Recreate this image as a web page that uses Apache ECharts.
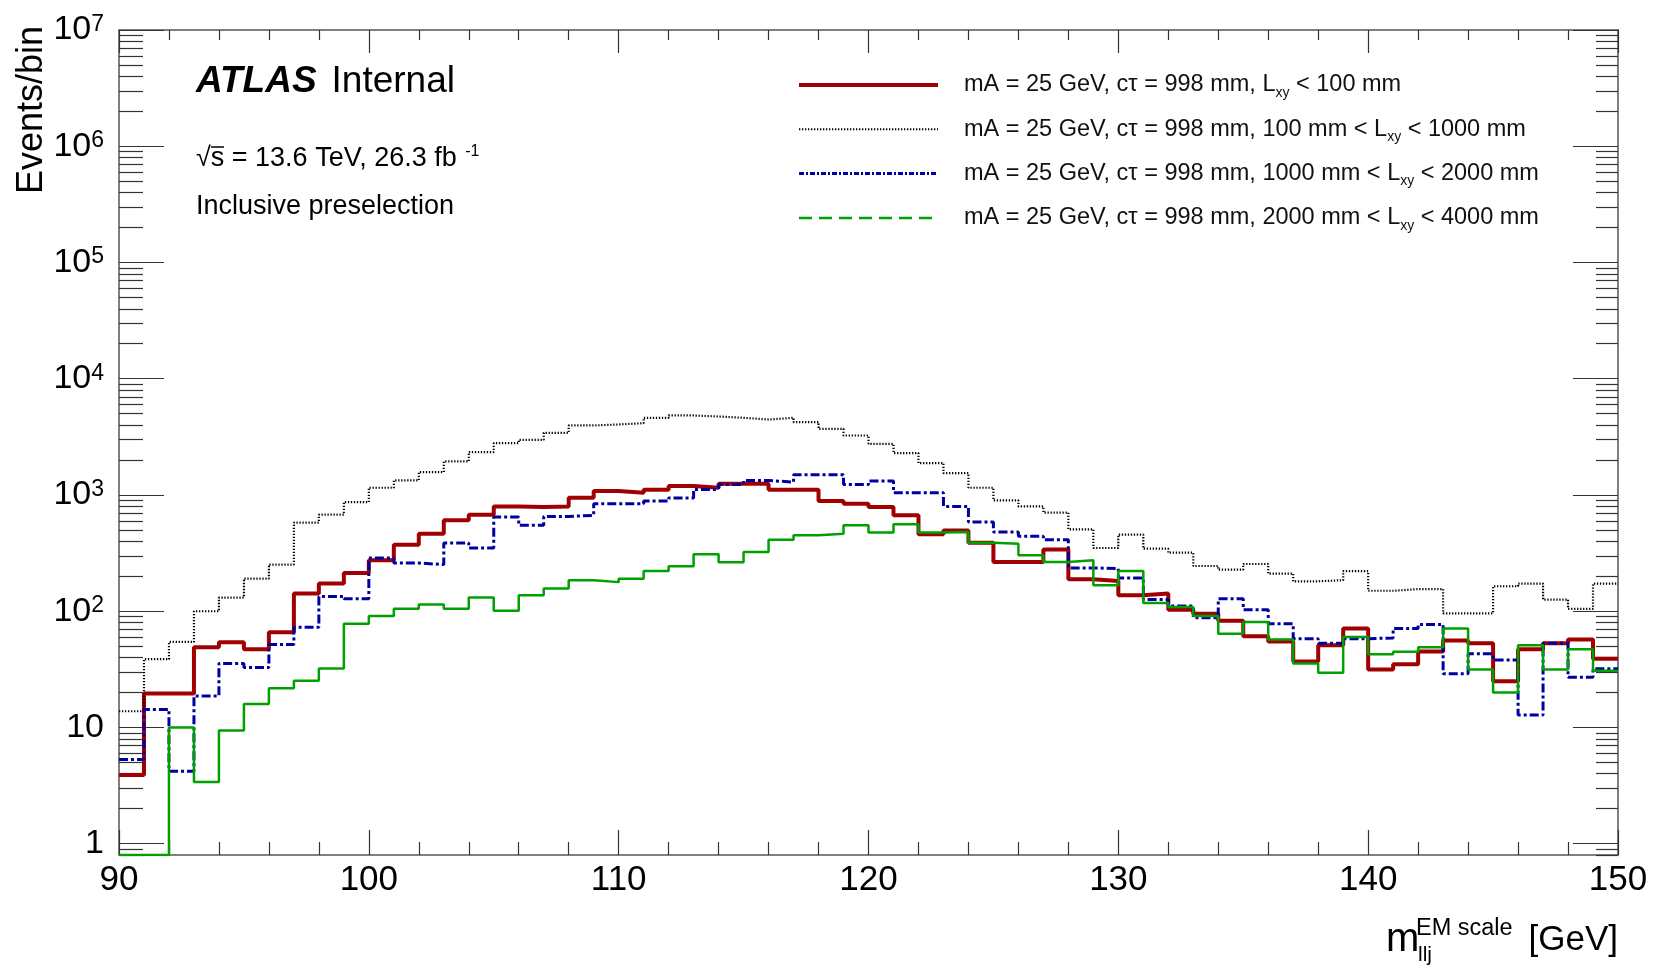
<!DOCTYPE html>
<html><head><meta charset="utf-8">
<script src="https://cdn.jsdelivr.net/npm/echarts@6/dist/echarts.min.js"></script>
<style>html,body{margin:0;padding:0;background:#fff}#c{width:1655px;height:969px}</style>
</head><body><div id="c"></div>
<script>
// ---- data ----
const binEdges = [90,91,92,93,94,95,96,97,98,99,100,101,102,103,104,105,106,107,108,109,110,111,112,113,114,115,116,117,118,119,120,121,122,123,124,125,126,127,128,129,130,131,132,133,134,135,136,137,138,139,140,141,142,143,144,145,146,147,148,149,150];
const lxyBelow100 = [3.9,19.6,19.6,49,54,47,66,142,173,213,274,374,465,605,677,798,787,798,947,1081,1045,1109,1193,1154,1250,1250,1109,1109,887,841,787,668,459,496,389,265,265,339,188,182,137,142,103,95,83,61,55,37,51,71,31.5,35,45,56,53,25,47,53,57,39];
const lxy100to1000 = [13.8,38.7,54.5,100,131,191,252,578,677,869,1154,1334,1574,1944,2340,2793,2985,3428,3963,4045,4150,4613,4831,4733,4613,4458,4613,4236,3707,3249,2756,2293,1880,1542,1154,899,798,705,506,350,456,345,319,245,228,255,211,181,185,221,150,155,155,96,96,164,173,126,105,173];
const lxy1000to2000 = [5.3,14.3,4.2,18.7,35.6,32.8,51.7,73,134,128,287,260,252,387,350,646,548,654,668,841,841,887,942,1117,1233,1334,1291,1494,1494,1233,1318,1045,1045,798,585,480,441,413,236,233,193,126,111,88,128,103,78,58,53,58,59,71,77,29,43,38,12.8,53,27,32];
const lxy2000to4000 = [0,0,10,3.4,9.4,15.9,21.7,25.2,32.2,78,91,105,114,105,131,101,137,157,185,178,190,222,244,309,264,323,413,450,465,548,475,559,475,480,389,381,303,265,274,167,222,118,109,91,64,81,57,35.5,29.5,60,42.7,44.8,49,71,31.6,20,51,31.6,47,30.7];
const seriesNames = ['Lxy < 100 mm','100 mm < Lxy < 1000 mm','1000 mm < Lxy < 2000 mm','2000 mm < Lxy < 4000 mm'];
const legendLabels = [
  'mA = 25 GeV, cτ = 998 mm, L{sub|xy} < 100 mm',
  'mA = 25 GeV, cτ = 998 mm, 100 mm < L{sub|xy} < 1000 mm',
  'mA = 25 GeV, cτ = 998 mm, 1000 mm < L{sub|xy} < 2000 mm',
  'mA = 25 GeV, cτ = 998 mm, 2000 mm < L{sub|xy} < 4000 mm'
];
const xTickLabels = [90,100,110,120,130,140,150];
const yDecades = [0,1,2,3,4,5,6,7];
const yMinValue = 0.8, yMaxValue = 1e7;

// ---- helpers ----
const FONT = "'Liberation Sans', Arial, Helvetica, sans-serif";
const yMin = Math.log10(yMinValue), yMax = Math.log10(yMaxValue);
function toLog(v){ return v > 0 ? Math.max(Math.log10(v), yMin) : yMin; }
function histData(vals){
  return binEdges.map((x,i)=>[x, toLog(vals[Math.min(i, vals.length-1)])]);
}
const minorVals = [];
[0.8,0.9].forEach(v=>minorVals.push(Math.log10(v)));
for (let n=0;n<7;n++) for (let k=2;k<=9;k++) minorVals.push(Math.log10(k*Math.pow(10,n)));

const chart = echarts.init(document.getElementById('c'), null, {renderer:'canvas'});
const axisLineStyle = {color:'#555', width:1.5};
const tickStyle = {color:'#333', width:1.2};
function yLabelFmt(v){
  const n = Math.round(v);
  if (n===0) return '1';
  if (n===1) return '10';
  return '10{sup|'+n+'}';
}
function yAxisDef(pos, major, len, labels){
  return {
    type:'value', min:yMin, max:yMax, position:pos,
    axisLine:{show:major, lineStyle:axisLineStyle},
    axisTick:{show:true, inside:true, length:len, lineStyle:tickStyle, customValues: major ? yDecades : minorVals},
    axisLabel: labels ? {show:true, customValues:yDecades, formatter:yLabelFmt, margin:15, color:'#000', fontFamily:FONT, fontSize:34,
      rich:{sup:{fontSize:23, fontFamily:FONT, color:'#000', verticalAlign:'top', lineHeight:18}}} : {show:false},
    splitLine:{show:false}
  };
}
const seriesStyles = [
  {color:'#a00000', width:4, type:'solid'},
  {color:'#000000', width:2.2, type:[1.3,1.7]},
  {color:'#0000a0', width:3, type:[9,3,3,3]},
  {color:'#00a000', width:2.5, type:'solid'}
];
const legendLineStyles = [
  {color:'#a00000', width:4, type:'solid'},
  {color:'#000000', width:2, type:[1.3,1.7]},
  {color:'#0000a0', width:3, type:[5,2,2,2]},
  {color:'#00a000', width:2.5, type:[13,7]}
];
const allVals = [lxyBelow100, lxy100to1000, lxy1000to2000, lxy2000to4000];

const option = {
  animation:false,
  backgroundColor:'#fff',
  grid:{left:119, right:37, top:30, bottom:114},
  xAxis:[
    {type:'value', min:90, max:150, interval:10, position:'bottom',
     axisLine:{show:true, onZero:false, lineStyle:axisLineStyle},
     axisTick:{inside:true, length:25, lineStyle:tickStyle},
     minorTick:{show:true, splitNumber:5, length:13, lineStyle:tickStyle},
     axisLabel:{fontSize:35, margin:8, color:'#000', fontFamily:FONT,
       formatter:v=> xTickLabels.includes(v) ? String(v) : ''},
     splitLine:{show:false}},
    {type:'value', min:90, max:150, interval:10, position:'top',
     axisLine:{show:true, onZero:false, lineStyle:axisLineStyle},
     axisTick:{inside:true, length:23, lineStyle:tickStyle},
     minorTick:{show:true, splitNumber:5, length:10, lineStyle:tickStyle},
     axisLabel:{show:false}, splitLine:{show:false}}
  ],
  yAxis:[
    yAxisDef('left', true, 45, true),
    yAxisDef('left', false, 24, false),
    yAxisDef('right', true, 45, false),
    yAxisDef('right', false, 22, false)
  ],
  legend:{
    show:true, orient:'vertical', left:797, top:70, padding:0, itemWidth:139, itemHeight:14, itemGap:14.3,
    selectedMode:false,
    itemStyle:{opacity:0},
    data: seriesNames.map((n,i)=> ({name:n, lineStyle:legendLineStyles[i]})),
    formatter: name => legendLabels[seriesNames.indexOf(name)],
    textStyle:{fontSize:23.5, color:'#111', fontFamily:FONT, lineHeight:30, padding:[0,0,0,21],
      rich:{sub:{fontSize:14, fontFamily:FONT, color:'#111', verticalAlign:'bottom', lineHeight:16}}}
  },
  series: allVals.map((vals,i)=>({
    name: seriesNames[i], type:'line', step:'end', xAxisIndex:0, yAxisIndex:0,
    symbol:'none', showSymbol:false, clip:true,
    lineStyle: seriesStyles[i], itemStyle:{color:seriesStyles[i].color},
    data: histData(vals), z: 2+i
  })),
  graphic:[
    {type:'text', x:196, y:82, style:{text:'{b|ATLAS}{n|Internal}', fill:'#000', align:'left', verticalAlign:'middle', textAlign:'left', textVerticalAlign:'middle',
      fontSize:37, fontFamily:FONT,
      rich:{b:{fontSize:37, fontWeight:'bold', fontStyle:'italic', fontFamily:FONT, fill:'#000'}, n:{fontSize:37, fontFamily:FONT, fill:'#000', padding:[0,0,0,15]}}}},
    {type:'text', x:196, y:159, style:{text:'√s = 13.6 TeV, 26.3 fb{sup| -1}', fill:'#000', align:'left', verticalAlign:'middle', textAlign:'left', textVerticalAlign:'middle',
      fontSize:27, fontFamily:FONT, lineHeight:30,
      rich:{sup:{fontSize:16, fontFamily:FONT, fill:'#000', verticalAlign:'top', lineHeight:16, padding:[0,0,0,4]}}}},
    {type:'line', shape:{x1:211, y1:147, x2:224, y2:147}, style:{stroke:'#000', lineWidth:1.5}},
    {type:'text', x:196, y:207, style:{text:'Inclusive preselection', fill:'#000', align:'left', verticalAlign:'middle', textAlign:'left', textVerticalAlign:'middle', fontSize:27, fontFamily:FONT}},
    {type:'text', x:32, y:26, rotation:Math.PI/2, style:{text:'Events/bin', fill:'#000', align:'right', verticalAlign:'middle', textAlign:'right', textVerticalAlign:'middle', fontSize:36, fontFamily:FONT}},
    {type:'text', x:1386, y:940, style:{text:'m', fill:'#000', align:'left', verticalAlign:'middle', textAlign:'left', textVerticalAlign:'middle', fontSize:40, fontFamily:FONT}},
    {type:'text', x:1416, y:929, style:{text:'EM scale', fill:'#000', align:'left', verticalAlign:'middle', textAlign:'left', textVerticalAlign:'middle', fontSize:23.5, fontFamily:FONT}},
    {type:'text', x:1418, y:955, style:{text:'llj', fill:'#000', align:'left', verticalAlign:'middle', textAlign:'left', textVerticalAlign:'middle', fontSize:21, fontFamily:FONT}},
    {type:'text', x:1618, y:940, style:{text:'[GeV]', fill:'#000', align:'right', verticalAlign:'middle', textAlign:'right', textVerticalAlign:'middle', fontSize:35, fontFamily:FONT}}
  ]
};
chart.setOption(option);
</script>
</body></html>
